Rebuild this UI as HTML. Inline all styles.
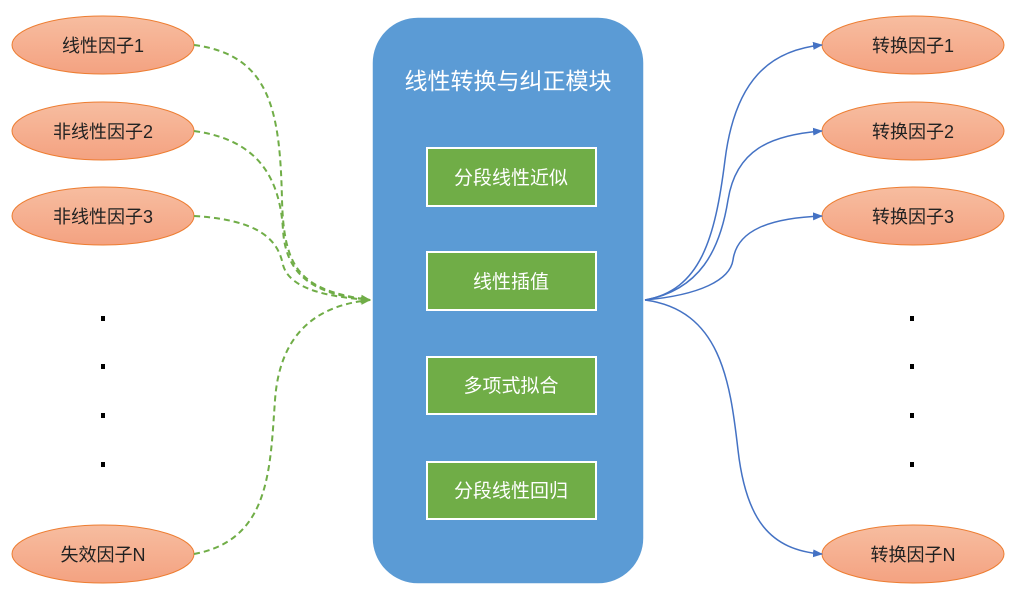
<!DOCTYPE html>
<html><head><meta charset="utf-8"><style>
body{margin:0;background:#fff;width:1014px;height:591px;overflow:hidden;font-family:"Liberation Sans","Noto Sans CJK SC",sans-serif}
</style></head><body>
<svg width="1014" height="591" viewBox="0 0 1014 591" xmlns="http://www.w3.org/2000/svg" style="font-family:'Liberation Sans','Noto Sans CJK SC',sans-serif">
<defs>
<linearGradient id="og" x1="0" y1="0" x2="0" y2="1"><stop offset="0" stop-color="#f7bda0"/><stop offset="1" stop-color="#f4a281"/></linearGradient>
<marker id="ga" markerWidth="10" markerHeight="10" refX="9" refY="5" orient="auto" markerUnits="userSpaceOnUse"><path d="M0,1 L10,5 L0,9z" fill="#70ad47"/></marker>
<marker id="ba" markerWidth="10" markerHeight="10" refX="9" refY="5" orient="auto" markerUnits="userSpaceOnUse"><path d="M0,1 L10,5 L0,9z" fill="#4472c4"/></marker>
</defs>
<g fill="url(#og)" stroke="#ed7d31" stroke-width="1">
<ellipse cx="103" cy="45" rx="91" ry="29"/>
<ellipse cx="103" cy="131" rx="91" ry="29"/>
<ellipse cx="103" cy="216" rx="91" ry="29"/>
<ellipse cx="103" cy="554" rx="91" ry="29"/>
<ellipse cx="913" cy="45" rx="91" ry="29"/>
<ellipse cx="913" cy="131" rx="91" ry="29"/>
<ellipse cx="913" cy="216" rx="91" ry="29"/>
<ellipse cx="913" cy="554" rx="91" ry="29"/>
</g>
<g font-size="18" fill="#222" text-anchor="middle">
<text x="103" y="52">线性因子1</text>
<text x="103" y="138">非线性因子2</text>
<text x="103" y="223">非线性因子3</text>
<text x="103" y="561">失效因子N</text>
<text x="913" y="52">转换因子1</text>
<text x="913" y="138">转换因子2</text>
<text x="913" y="223">转换因子3</text>
<text x="913" y="561">转换因子N</text>
</g>
<g fill="#000">
<rect x="101" y="316" width="4" height="5"/><rect x="101" y="364" width="4" height="5"/><rect x="101" y="413" width="4" height="5"/><rect x="101" y="462" width="4" height="5"/>
<rect x="910" y="316" width="4" height="5"/><rect x="910" y="364" width="4" height="5"/><rect x="910" y="413" width="4" height="5"/><rect x="910" y="462" width="4" height="5"/>
</g>
<rect x="372" y="17" width="272" height="567" rx="46" fill="#5b9bd5" stroke="#fff" stroke-width="1.5"/>
<text x="508" y="89" font-size="23" fill="#fff" text-anchor="middle">线性转换与纠正模块</text>
<g fill="#70ad47" stroke="#fff" stroke-width="2">
<rect x="427" y="148" width="169" height="58"/>
<rect x="427" y="252" width="169" height="58"/>
<rect x="427" y="357" width="169" height="57"/>
<rect x="427" y="462" width="169" height="57"/>
</g>
<g font-size="19" fill="#fff" text-anchor="middle">
<text x="511" y="184">分段线性近似</text>
<text x="511" y="288">线性插值</text>
<text x="511" y="392">多项式拟合</text>
<text x="511" y="497">分段线性回归</text>
</g>
<g fill="none" stroke="#70ad47" stroke-width="2" stroke-dasharray="6,4">
<path d="M194,45 C270,55 280,110 282,200 C284,270 300,290 370,300" marker-end="url(#ga)"/>
<path d="M194,131 C260,140 280,180 283,230 C286,280 320,295 370,300" marker-end="url(#ga)"/>
<path d="M194,216 C260,220 278,240 283,265 C290,290 330,297 370,300" marker-end="url(#ga)"/>
<path d="M194,554 C270,540 270,470 275,400 C280,330 320,305 370,300" marker-end="url(#ga)"/>
</g>
<g fill="none" stroke="#4472c4" stroke-width="1.5">
<path d="M645,300 C700,290 715,240 725,160 C735,80 770,50 822,45" marker-end="url(#ba)"/>
<path d="M645,300 C700,290 720,250 728,200 C736,150 770,135 822,131" marker-end="url(#ba)"/>
<path d="M645,300 C700,295 730,280 733,260 C737,230 770,218 822,216" marker-end="url(#ba)"/>
<path d="M645,300 C720,310 730,380 738,450 C746,520 770,550 822,554" marker-end="url(#ba)"/>
</g>
</svg>
</body></html>
